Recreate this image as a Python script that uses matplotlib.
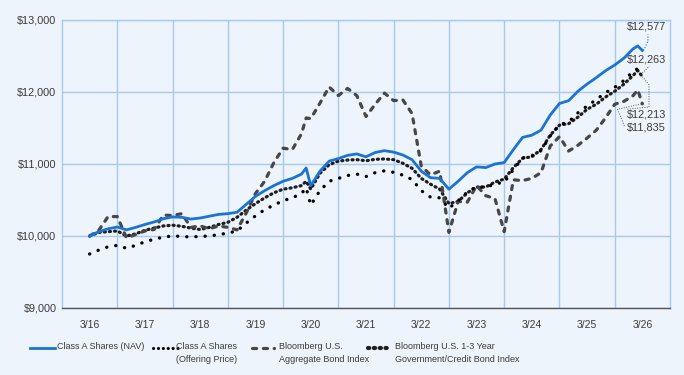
import matplotlib

matplotlib.use("Agg")
import matplotlib.pyplot as plt
from matplotlib.lines import Line2D

# month offsets from 3/16 (bi-monthly, plus Feb 2020 and Feb 2026)
months = [0, 2, 4, 6, 8, 10, 12, 14, 16, 18, 20, 22, 24, 26, 28, 30, 32, 34, 36, 38,
          40, 42, 44, 46, 47, 48, 50, 52, 54, 56, 58, 60, 62, 64, 66, 68, 70, 72, 74, 76,
          78, 80, 82, 84, 86, 88, 90, 92, 94, 96, 98, 100, 102, 104, 106, 108, 110, 112,
          114, 116, 118, 119, 120]

nav = [10000, 10060, 10100, 10125, 10085, 10120, 10160, 10195, 10240, 10265, 10260, 10235,
       10250, 10275, 10300, 10310, 10330, 10440, 10550, 10630, 10700, 10760, 10800, 10860,
       10945, 10700, 10900, 11040, 11075, 11120, 11140, 11100, 11160, 11185, 11165, 11125,
       11060, 10900, 10810, 10800, 10650, 10760, 10880, 10960, 10950, 11000, 11020, 11200,
       11370, 11400, 11470, 11680, 11840, 11880, 12010, 12110, 12200, 12295, 12375, 12470,
       12600, 12640, 12577]

offering = [9750, 9805, 9850, 9870, 9830, 9870, 9920, 9955, 9985, 10000, 9995, 9985,
            9995, 10000, 10020, 10040, 10070, 10180, 10280, 10365, 10430, 10490, 10530, 10590,
            10670, 10430, 10630, 10760, 10800, 10840, 10860, 10825, 10880, 10905, 10885, 10845,
            10785, 10630, 10540, 10530, 10385, 10490, 10610, 10685, 10675, 10725, 10745, 10920,
            11085, 11115, 11185, 11390, 11545, 11585, 11710, 11805, 11895, 11990, 12065, 12160,
            12285, 12325, 12263]

aggregate = [10000, 10080, 10270, 10270, 9975, 10020, 10070, 10090, 10290, 10285, 10310, 10120,
             10140, 10100, 10140, 10120, 10085, 10320, 10590, 10760, 11020, 11220, 11200, 11420,
             11640, 11630, 11845, 12070, 11950, 12050, 11950, 11660, 11830, 11985, 11880, 11890,
             11700, 10970, 10850, 10900, 10050, 10480, 10470, 10700, 10560, 10520, 10060, 10780,
             10770, 10800, 10880, 11250, 11380, 11180, 11260, 11360, 11470, 11640, 11830, 11870,
             11950, 12030, 11835]

short_gov = [10000, 10050, 10060, 10070, 10000, 10030, 10080, 10110, 10140, 10150, 10135, 10110,
             10090, 10120, 10160, 10190, 10260, 10360, 10450, 10530, 10600, 10650, 10670, 10700,
             10760, 10650, 10870, 10990, 11040, 11055, 11060, 11045, 11065, 11070, 11060, 11010,
             10940, 10800, 10720, 10650, 10450, 10480, 10600, 10680, 10680, 10750, 10790, 10950,
             11080, 11100, 11200, 11400, 11540, 11560, 11650, 11760, 11830, 11930, 12010, 12110,
             12230, 12300, 12213]

year_labels = ["3/16", "3/17", "3/18", "3/19", "3/20", "3/21", "3/22", "3/23", "3/24", "3/25", "3/26"]
y_ticks = [9000, 10000, 11000, 12000, 13000]

names = ["Class A Shares (NAV)", "Class A Shares\n(Offering Price)",
         "Bloomberg U.S.\nAggregate Bond Index",
         "Bloomberg U.S. 1-3 Year\nGovernment/Credit Bond Index"]

BG = "#EEF4FB"
GRID = "#A8C8F0"
BLUE = "#1B74D1"
TXT = "#3A3A3A"

plt.rcParams["font.family"] = ["Liberation Sans", "DejaVu Sans"]

t = [m / 12 for m in months]

fig = plt.figure(figsize=(6.84, 3.75), dpi=100, facecolor=BG)
ax = fig.add_axes([62 / 684, 1 - 308 / 375, 608 / 684, 288 / 375])
ax.set_facecolor(BG)

styles = {
    "short": dict(color="#1E1E1E", lw=2.3, linestyle=(0, (0.35, 1.25)), dash_capstyle="round"),
    "agg": dict(color="#474747", lw=2.3, linestyle=(0, (1.3, 2.1)), dash_capstyle="round"),
    "off": dict(color="#000000", lw=2.4, linestyle=(0, (0.05, 2.7)), dash_capstyle="round"),
    "nav": dict(color=BLUE, lw=2.0, solid_joinstyle="round"),
}

ax.plot(t, short_gov, **styles["short"], zorder=3)
ax.plot(t, aggregate, **styles["agg"], zorder=3)
ax.plot(t, offering, **styles["off"], zorder=4)
ax.plot(t, nav, **styles["nav"], zorder=5)

ax.set_xlim(-0.5, 10.5)
ax.set_ylim(9000, 13000)
ax.set_xticks(range(len(year_labels)))
ax.set_xticklabels(year_labels, fontsize=7.5, color=TXT)
ax.set_xticks([i + 0.5 for i in range(10)], minor=True)
ax.set_yticks(y_ticks)
ax.set_yticklabels([f"${v:,}" for v in y_ticks], fontsize=7.8, color=TXT)
ax.tick_params(axis="both", which="both", length=0)
ax.tick_params(axis="x", pad=9)
ax.tick_params(axis="y", pad=4)
ax.grid(axis="y", which="major", color=GRID, lw=1.0)
ax.grid(axis="x", which="minor", color=GRID, lw=1.0)
for side in ["left", "top", "right"]:
    ax.spines[side].set_color(GRID)
    ax.spines[side].set_linewidth(1.0)
ax.spines["bottom"].set_color("#555555")
ax.spines["bottom"].set_linewidth(1.0)

# end value labels with dotted leaders
end_t = t[-1]
ax.text(9.72, 12905, "$12,577", fontsize=7.8, color=TXT, va="center", ha="left")
ax.text(9.72, 12450, "$12,263", fontsize=7.8, color=TXT, va="center", ha="left")
ax.text(9.72, 11690, "$12,213", fontsize=7.8, color=TXT, va="center", ha="left")
ax.text(9.72, 11510, "$11,835", fontsize=7.8, color=TXT, va="center", ha="left")
ax.plot([end_t + 0.02, end_t + 0.1, end_t + 0.1], [nav[-1], 12700, 12800],
        color=BLUE, lw=0.8, linestyle=(0, (1, 1.5)), zorder=2)
ax.plot([end_t, end_t + 0.1, end_t + 0.13], [offering[-1], 12340, 12360],
        color="#555555", lw=0.7, linestyle=(0, (1, 1.5)), zorder=2)
ax.plot([end_t, end_t + 0.12, end_t + 0.12, 9.7], [short_gov[-1], 12100, 11790, 11760],
        color="#555555", lw=0.7, linestyle=(0, (1, 1.5)), zorder=2)
ax.plot([end_t - 0.02, 9.55, 9.68], [aggregate[-1], 11760, 11520],
        color="#555555", lw=0.7, linestyle=(0, (1, 1.5)), zorder=2)

# legend built by hand, in figure pixels
def fx(px):
    return px / 684


def fy(py):
    return 1 - py / 375


legend_styles = dict(styles)
legend_styles["off"] = dict(color="#000000", lw=2.2, linestyle=(0, (0.05, 1.55)),
                            dash_capstyle="round")
legend_styles["short"] = dict(color="#1E1E1E", lw=3.0, linestyle=(0, (0.3, 1.1)),
                              dash_capstyle="round")

legend_items = [
    (30, 55, 57, names[0], "nav", "left"),
    (153, 178, 237, names[1], "off", "right"),
    (252, 274, 279, names[2], "agg", "left"),
    (368, 390, 395, names[3], "short", "left"),
]
for x0, x1, tx, label, key, ha in legend_items:
    fig.add_artist(Line2D([fx(x0), fx(x1)], [fy(348), fy(348)], transform=fig.transFigure,
                          **legend_styles[key]))
    fig.text(fx(tx), fy(342), label, fontsize=6.5, color=TXT, ha=ha, va="top",
             linespacing=1.55, multialignment="right" if ha == "right" else "left")

fig.savefig("out.png", dpi=100, facecolor=BG)
plt.close(fig)
